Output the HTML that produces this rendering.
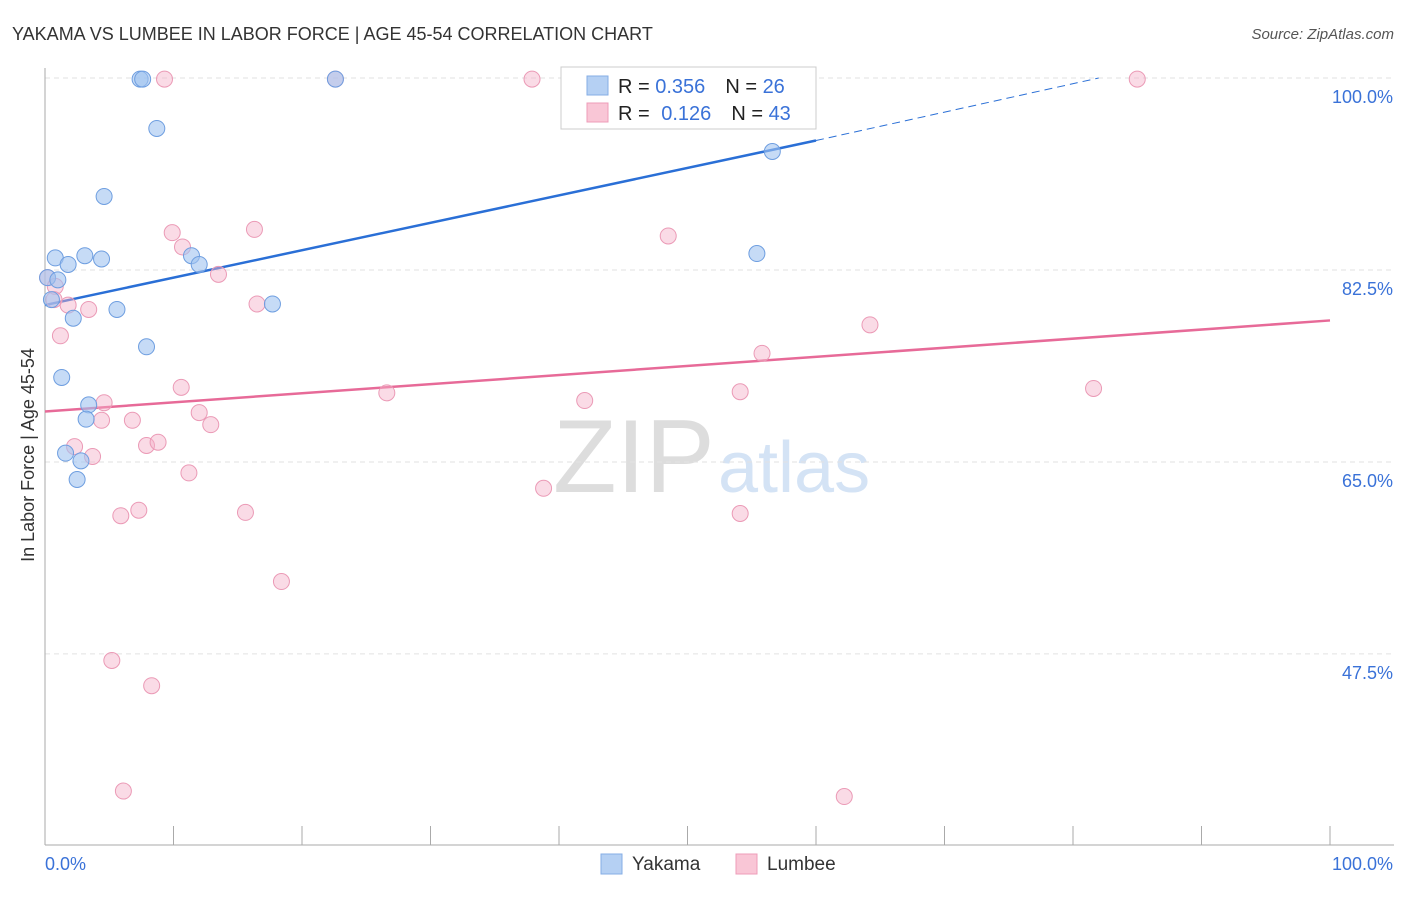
<!DOCTYPE html>
<html><head><meta charset="utf-8"><style>
body{margin:0;background:#fff;font-family:"Liberation Sans",sans-serif;}
svg text{font-family:"Liberation Sans",sans-serif;}
</style></head><body>
<svg id="chart" width="1406" height="892">
<text x="12" y="40" font-size="18" fill="#333">YAKAMA VS LUMBEE IN LABOR FORCE | AGE 45-54 CORRELATION CHART</text>
<text x="1394" y="39" font-size="15" fill="#555" font-style="italic" text-anchor="end">Source: ZipAtlas.com</text>
<text transform="translate(34,455) rotate(-90)" font-size="18" fill="#333" text-anchor="middle">In Labor Force | Age 45-54</text>
<g>
<text x="553" y="492" font-size="104" fill="#ddd" font-family="Liberation Serif">ZIP</text>
<text x="718" y="492" font-size="72" fill="#d4e3f5">atlas</text>
</g>
<g id="grid"></g><g id="axes"></g><g id="trends"></g><g id="points"></g>
<g>
<rect x="561" y="67" width="255" height="62" fill="#fff" stroke="#ccc"/>
<rect x="587" y="76" width="21" height="19" fill="#b5d0f3" stroke="#85aee6"/>
<rect x="587" y="103" width="21" height="19" fill="#f9c6d6" stroke="#ee9cb8"/>
<text x="618" y="93" font-size="20" fill="#222">R = <tspan fill="#3a72d8">0.356</tspan><tspan dx="20" fill="#222">N = </tspan><tspan fill="#3a72d8">26</tspan></text>
<text x="618" y="120" font-size="20" fill="#222">R = <tspan dx="6" fill="#3a72d8">0.126</tspan><tspan dx="20" fill="#222">N = </tspan><tspan fill="#3a72d8">43</tspan></text>
</g>
<g>
<rect x="601" y="854" width="21" height="20" fill="#b5d0f3" stroke="#85aee6"/>
<text x="632" y="870" font-size="19" fill="#333">Yakama</text>
<rect x="736" y="854" width="21" height="20" fill="#f9c6d6" stroke="#ee9cb8"/>
<text x="767" y="870" font-size="19" fill="#333">Lumbee</text>
</g>
</svg>
<script>
const yTicks=[100,82.5,65,47.5];
const yTickLabels=["100.0%","82.5%","65.0%","47.5%"];
const xEndLabels=["0.0%","100.0%"];
const yakamaX=[7.4,7.6,22.6,8.7,4.6,0.8,3.1,4.4,1.8,11.4,12.0,0.2,1.0,0.5,5.6,2.2,17.7,7.9,1.3,3.4,3.2,1.6,2.8,2.5,56.6,55.4];
const yakamaY=[99.9,99.9,99.9,95.4,89.2,83.6,83.8,83.5,83.0,83.8,83.0,81.8,81.6,79.8,78.9,78.1,79.4,75.5,72.7,70.2,68.9,65.8,65.1,63.4,93.3,84.0];
const lumbeeX=[9.3,22.6,37.9,85.0,9.9,16.3,10.7,13.5,48.5,0.2,0.8,0.7,1.8,3.4,16.5,1.2,64.2,55.8,10.6,26.6,81.6,54.1,42.0,4.6,12.0,6.8,4.4,12.9,7.9,8.8,2.3,3.7,11.2,38.8,5.9,7.3,15.6,54.1,18.4,5.2,8.3,6.1,62.2];
const lumbeeY=[99.9,99.9,99.9,99.9,85.9,86.2,84.6,82.1,85.6,81.8,81.0,79.8,79.3,78.9,79.4,76.5,77.5,74.9,71.8,71.3,71.7,71.4,70.6,70.4,69.5,68.8,68.8,68.4,66.5,66.8,66.4,65.5,64.0,62.6,60.1,60.6,60.4,60.3,54.1,46.9,44.6,35.0,34.5];
const yakamaTrend=[79.3,94.3,100];const yakamaTrendX=[0,60,82];
const lumbeeTrend=[69.6,77.9];const lumbeeTrendX=[0,100];
const NS="http://www.w3.org/2000/svg";
const sx=v=>45+v*12.85, sy=v=>78+(100-v)*10.97;
function mk(tag,attrs,parent){const e=document.createElementNS(NS,tag);for(const k in attrs)e.setAttribute(k,attrs[k]);document.getElementById(parent).appendChild(e);return e;}
yTicks.forEach((t,i)=>{
 const l=mk('line',{x1:45,x2:1394,y1:sy(t),y2:sy(t),stroke:'#e2e2e2','stroke-dasharray':'5,4'},'grid');
 
 
 const tx=mk('text',{x:1393,y:sy(t)+25,'font-size':18,fill:'#3a72d8','text-anchor':'end'},'grid');
 tx.textContent=yTickLabels[i];
 
 
});
let a=mk('line',{x1:45,x2:45,y1:68,y2:845,stroke:'#aaa'},'axes');


a=mk('line',{x1:45,x2:1394,y1:845,y2:845,stroke:'#aaa'},'axes');


for(let i=0;i<=10;i++){const t=mk('line',{x1:sx(i*10),x2:sx(i*10),y1:826,y2:845,stroke:'#aaa'},'axes');
 
 }
[[0,'start',45],[1,'end',1393]].forEach(([i,an,x])=>{const t=mk('text',{x:x,y:870,'font-size':18,fill:'#3a72d8','text-anchor':an},'axes');t.textContent=xEndLabels[i];
 
 });
let tl=mk('line',{x1:sx(yakamaTrendX[0]),y1:sy(yakamaTrend[0]),x2:sx(yakamaTrendX[1]),y2:sy(yakamaTrend[1]),stroke:'#2a6fd6','stroke-width':2.5},'trends');


tl=mk('line',{x1:sx(yakamaTrendX[1]),y1:sy(yakamaTrend[1]),x2:sx(yakamaTrendX[2]),y2:sy(yakamaTrend[2]),stroke:'#2a6fd6','stroke-width':1,'stroke-dasharray':'8,5'},'trends');


tl=mk('line',{x1:sx(lumbeeTrendX[0]),y1:sy(lumbeeTrend[0]),x2:sx(lumbeeTrendX[1]),y2:sy(lumbeeTrend[1]),stroke:'#e76a98','stroke-width':2.5},'trends');


lumbeeX.forEach((x,i)=>{const c=mk('circle',{cx:sx(x),cy:sy(lumbeeY[i]),r:8,fill:'rgba(245,175,200,0.45)',stroke:'#eb9ab6','stroke-width':1},'points');
 
 });
yakamaX.forEach((x,i)=>{const c=mk('circle',{cx:sx(x),cy:sy(yakamaY[i]),r:8,fill:'rgba(160,195,240,0.6)',stroke:'#6e9ee0','stroke-width':1},'points');
 
 });
</script>
</body></html>
